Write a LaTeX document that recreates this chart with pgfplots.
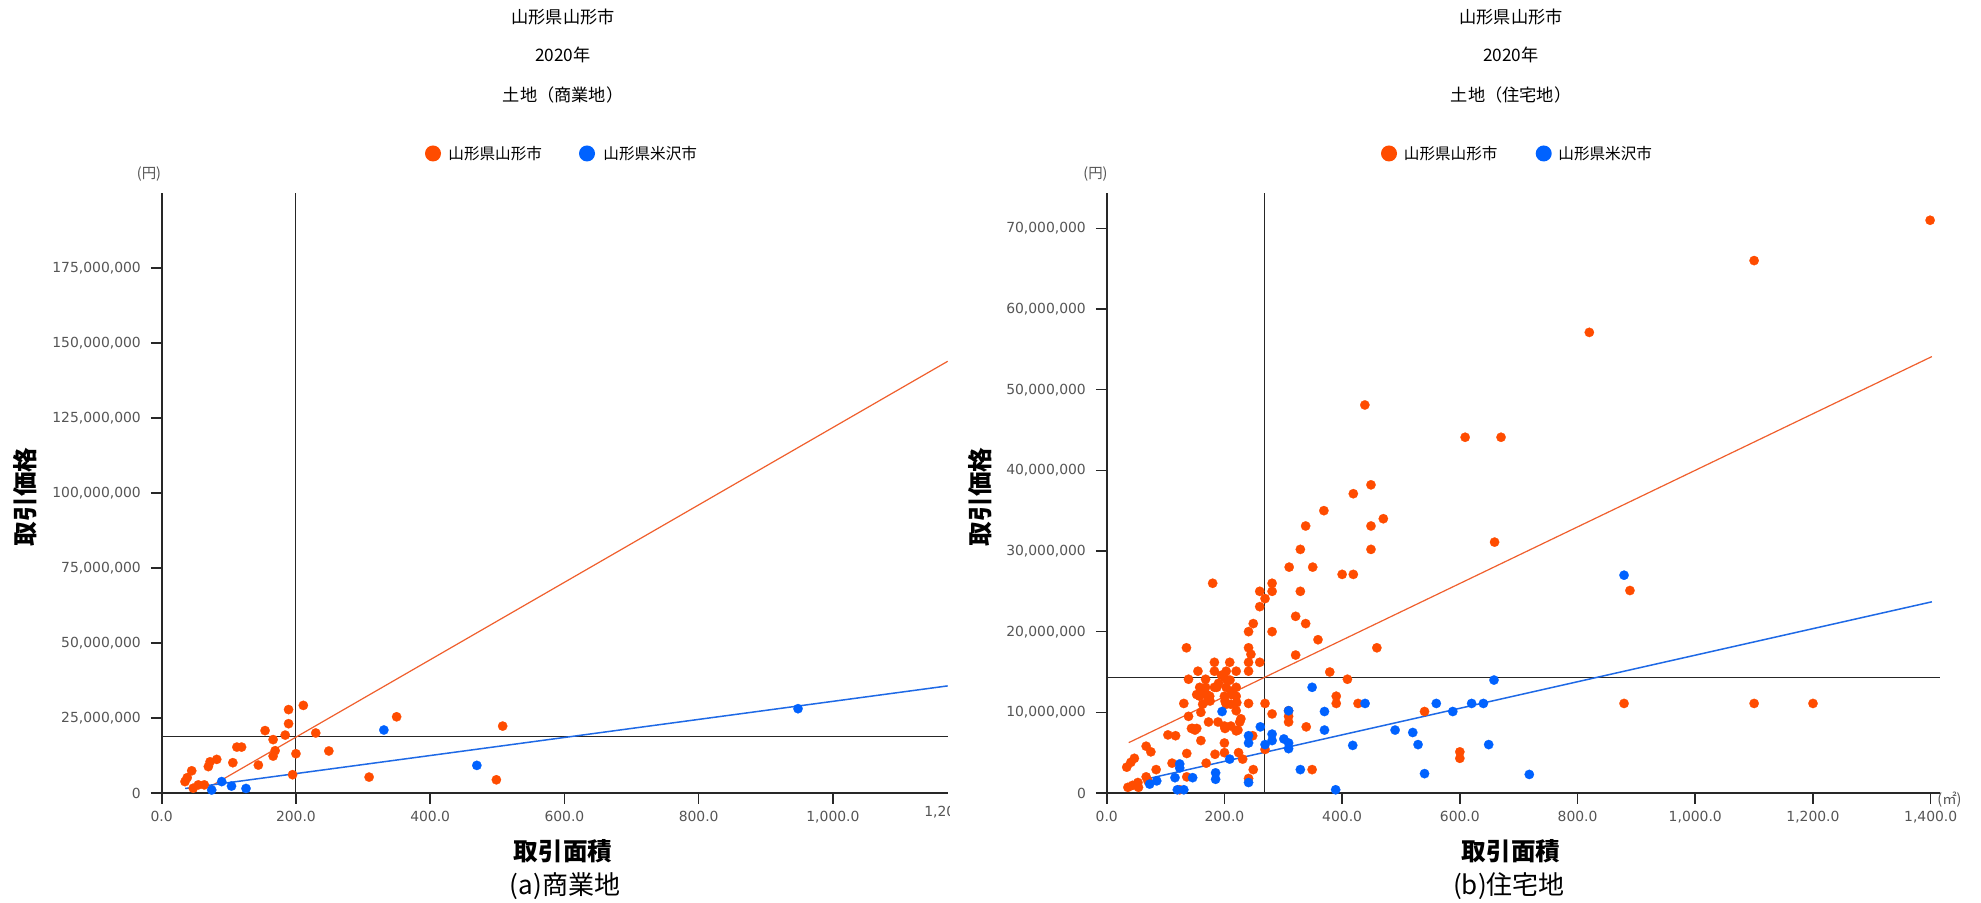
\documentclass[border=0pt]{standalone}
\usepackage{fontspec}
\setmainfont{Noto Sans CJK JP}
\newfontfamily\tickfont{DejaVu Sans}
\usepackage{pgfplots}
\pgfplotsset{compat=1.18}
\definecolor{cor}{RGB}{255,76,0}
\definecolor{cbl}{RGB}{0,98,255}
\definecolor{lor}{RGB}{240,95,45}
\definecolor{lbl}{RGB}{30,105,230}
\definecolor{tgray}{RGB}{85,85,85}
\definecolor{axgray}{RGB}{40,40,40}

\pgfplotsset{
  refstyle/.style={
    scale only axis, anchor=south west, height=300pt,
    axis lines=left, axis line style={-, draw=axgray, line width=0.8pt},
    tick align=outside, major tick length=5.4pt,
    tick style={draw=axgray, line width=0.8pt},
    ticklabel style={font=\tickfont\fontsize{6.95}{8}\selectfont, text=tgray},
    yticklabel style={xshift=-1.5pt},
    /pgf/number format/assume math mode=true,
    xmin=0, ymin=0, clip=false,
  },
  pto/.style={only marks, mark=*, mark size=2.35pt, color=cor, mark options={line width=0.1pt}},
  ptb/.style={only marks, mark=*, mark size=2.35pt, color=cbl, mark options={line width=0.1pt}},
  med/.style={no marks, draw=black!85, line width=0.55pt},
}

\begin{document}
\begin{tikzpicture}
\path[use as bounding box, fill=white] (0,0) rectangle (990.5pt,451.5pt);

% ---------------- left: commercial ----------------
\begin{axis}[refstyle, at={(80.85pt,55pt)}, width=393pt,
  xmax=1171, ymax=200,
  xtick={0,200,400,600,800,1000},
  xticklabels={0.0,200.0,400.0,600.0,800.0,{1,000.0}},
  ytick={0,25,50,75,100,125,150,175},
  yticklabels={0,{25,000,000},{50,000,000},{75,000,000},{100,000,000},{125,000,000},{150,000,000},{175,000,000}},
]
\addplot[med] coordinates {(200,0) (200,200)};
\addplot[med] coordinates {(0,18.9) (1171,18.9)};
\addplot[pto] coordinates {
(34.7,3.8) (38,5.1) (44.7,7.4) (47,1.6) (54.5,2.7) (63.5,2.7) (69.5,8.8) (72,10.4)
(82,11.2) (106,10.1) (112,15.3) (119,15.3) (144,9.3) (154,20.8) (166,17.8) (166,12.3)
(169,14.1) (184,19.3) (189,27.8) (189,23.1) (195,6.1) (200,13.1) (211,29.2) (229.5,20.0)
(249,14.0) (309,5.3) (350,25.4) (498.6,4.4) (508,22.3)
};
\addplot[ptb] coordinates {
(74.5,1.0) (89.4,3.8) (104,2.3) (125.6,1.5) (331,21.0) (469.5,9.2) (948,28.1)
};
\addplot[no marks, draw=lor, line width=0.6pt] coordinates {(72,2.1) (1171,143.9)};
\addplot[no marks, draw=lbl, line width=0.75pt] coordinates {(35,1.5) (1171,35.7)};
\end{axis}

% ---------------- right: residential ----------------
\begin{axis}[refstyle, at={(553.35pt,55pt)}, width=416.4pt,
  xmax=1415, ymax=74.38,
  xtick={0,200,400,600,800,1000,1200,1400},
  xticklabels={0.0,200.0,400.0,600.0,800.0,{1,000.0},{1,200.0},{1,400.0}},
  ytick={0,10,20,30,40,50,60,70},
  yticklabels={0,{10,000,000},{20,000,000},{30,000,000},{40,000,000},{50,000,000},{60,000,000},{70,000,000}},
]
\addplot[med] coordinates {(268,0) (268,74.38)};
\addplot[med] coordinates {(0,14.35) (1415,14.35)};
\addplot[pto] coordinates {
(438.6,48.1) (609,44.1) (670,44.1) (820,57.1) (1100,66.0) (1399,71.0)
(449,38.2) (419,37.1) (369,35.0) (470,34.0) (338,33.1) (449,33.1) (329,30.2) (449,30.2)
(659,31.1) (310,28.0) (350,28.0) (400,27.1) (419,27.1) (180,26.0) (281,26.0) (260,25.0)
(281,25.0) (329,25.0) (889,25.1) (269,24.1) (260,23.1) (321,21.9) (249,21.0) (338,21.0)
(241,20.0) (281,20.0) (359,19.0) (135.5,18.0) (241,18.0) (459,18.0) (245,17.2) (321,17.1)
(241,16.2) (260,16.2) (183,16.2) (209,16.2) (155,15.1) (183,15.1) (203,15.1) (220,15.1)
(241,15.1) (379,15.0) (139,14.1) (168,14.1) (203,14.1) (409,14.1) (158,13.1) (168,13.1)
(183,13.1) (203,13.1) (220,13.1) (158,12.0) (175,12.0) (200,12.0) (220,12.0) (390,12.0)
(163,11.0) (203,11.0) (211,11.0) (131,11.1) (241,11.1) (269,11.1) (390,11.1) (427,11.1)
(879,11.1) (1100,11.1) (1200,11.1) (160,10.0) (139,9.5) (281,9.8) (309,10.2) (309,9.5)
(309,8.8) (339,8.2) (220,10.2) (228,9.2) (189,8.8) (200,8.3) (211,8.3) (220,7.7)
(146,8.0) (153,8.0) (104,7.2) (117,7.1) (160,6.5) (248,7.1) (200,6.2) (200,5.0)
(224,5.0) (231,4.2) (184,4.8) (269,5.4) (136,4.9) (67,5.8) (75,5.1) (34,3.2)
(41,3.8) (47,4.3) (111,3.7) (169,3.7) (84,2.9) (249,2.9) (349,2.9) (67,2.0)
(70,1.5) (136,2.0) (36,0.7) (44,0.95) (53,1.3) (54,0.7) (124,0.4) (241,1.8)
(540,10.1) (600,5.1) (600,4.3) (165,12.5) (190,13.6) (212,12.6) (172,11.5) (195,14.6)
(209.5,14.0) (152.9,12.2) (170,12.2) (221,11.2) (173,8.8) (226,8.8) (144,8.0) (150,7.8)
(201,8.0) (223,7.8) (187,13.1) (212,12.2) (175.6,11.4) (201,11.4)
};
\addplot[ptb] coordinates {
(349,13.1) (196,10.1) (309,10.2) (370,10.1) (261,8.2) (241,7.1) (241,6.2) (281,7.3)
(281,6.5) (301,6.7) (309,6.2) (309,5.5) (370,7.8) (418,5.9) (269,6.0) (209,4.2)
(124,3.6) (124,3.1) (116,1.9) (146,1.9) (185,2.5) (185,1.7) (85,1.5) (73,1.1)
(241,1.3) (329,2.9) (389,0.4) (131,0.4) (120,0.4) (439,11.1) (658,14.0) (560,11.1)
(588,10.1) (620,11.1) (640,11.1) (490,7.8) (520,7.5) (529,6.0) (649,6.0) (540,2.4)
(718,2.3) (879,27.0)
};
\addplot[no marks, draw=lor, line width=0.6pt] coordinates {(37.4,6.24) (1402,54.1)};
\addplot[no marks, draw=lbl, line width=0.75pt] coordinates {(72.6,1.82) (1402,23.7)};
\end{axis}

% ---------------- texts (in reference pixel units) ----------------
\begin{scope}[x=0.5pt, y=-0.5pt, shift={(0pt,451.5pt)}]
  \def\tf{\fontsize{8.6}{10}\selectfont}
  % titles left
  \node[font=\tf] at (563,16.7) {山形県山形市};
  \node[font=\tf] at (563,55) {2020年};
  \node[font=\tf] at (563,95) {土地（商業地）};
  % titles right
  \node[font=\tf] at (1511,16.7) {山形県山形市};
  \node[font=\tf] at (1511,55) {2020年};
  \node[font=\tf] at (1511,95) {土地（住宅地）};
  % legends
  \fill[cor] (433,153.5) circle (8);
  \node[font=\fontsize{7.8}{9}\selectfont, anchor=west, inner sep=0] at (448,153.5) {山形県山形市};
  \fill[cbl] (587,153.5) circle (8);
  \node[font=\fontsize{7.8}{9}\selectfont, anchor=west, inner sep=0] at (603,153.5) {山形県米沢市};
  \fill[cor] (1389,153.5) circle (8);
  \node[font=\fontsize{7.8}{9}\selectfont, anchor=west, inner sep=0] at (1403.5,153.5) {山形県山形市};
  \fill[cbl] (1543.7,153.5) circle (8);
  \node[font=\fontsize{7.8}{9}\selectfont, anchor=west, inner sep=0] at (1558,153.5) {山形県米沢市};
  % units
  \node[font=\fontsize{7.2}{8}\selectfont, text=tgray] at (149,174) {(円)};
  \node[font=\fontsize{7.2}{8}\selectfont, text=tgray] at (1095.5,174) {(円)};
  \node[font=\fontsize{7.2}{8}\selectfont, text=tgray, anchor=west, inner sep=0] at (1937,800) {(㎡)};
  % clipped tick label of left chart
  \begin{scope}
    \clip (900,795) rectangle (949.3,830);
    \node[font=\tickfont\fontsize{6.95}{8}\selectfont, text=tgray] at (950.8,812.5) {1,200.0};
  \end{scope}
  % axis titles
  \node[font=\fontsize{12.3}{14}\selectfont\bfseries, rotate=90] at (25,497) {取引価格};
  \node[font=\fontsize{12.3}{14}\selectfont\bfseries, rotate=90] at (980,497) {取引価格};
  \node[font=\fontsize{12.3}{14}\selectfont\bfseries] at (563,851.7) {取引面積};
  \node[font=\fontsize{12.3}{14}\selectfont\bfseries] at (1511,851.7) {取引面積};
  % captions
  \node[font=\fontsize{13}{15}\selectfont] at (565,886.5) {(a)商業地};
  \node[font=\fontsize{13}{15}\selectfont] at (1509,886.5) {(b)住宅地};
\end{scope}
\end{tikzpicture}
\end{document}
